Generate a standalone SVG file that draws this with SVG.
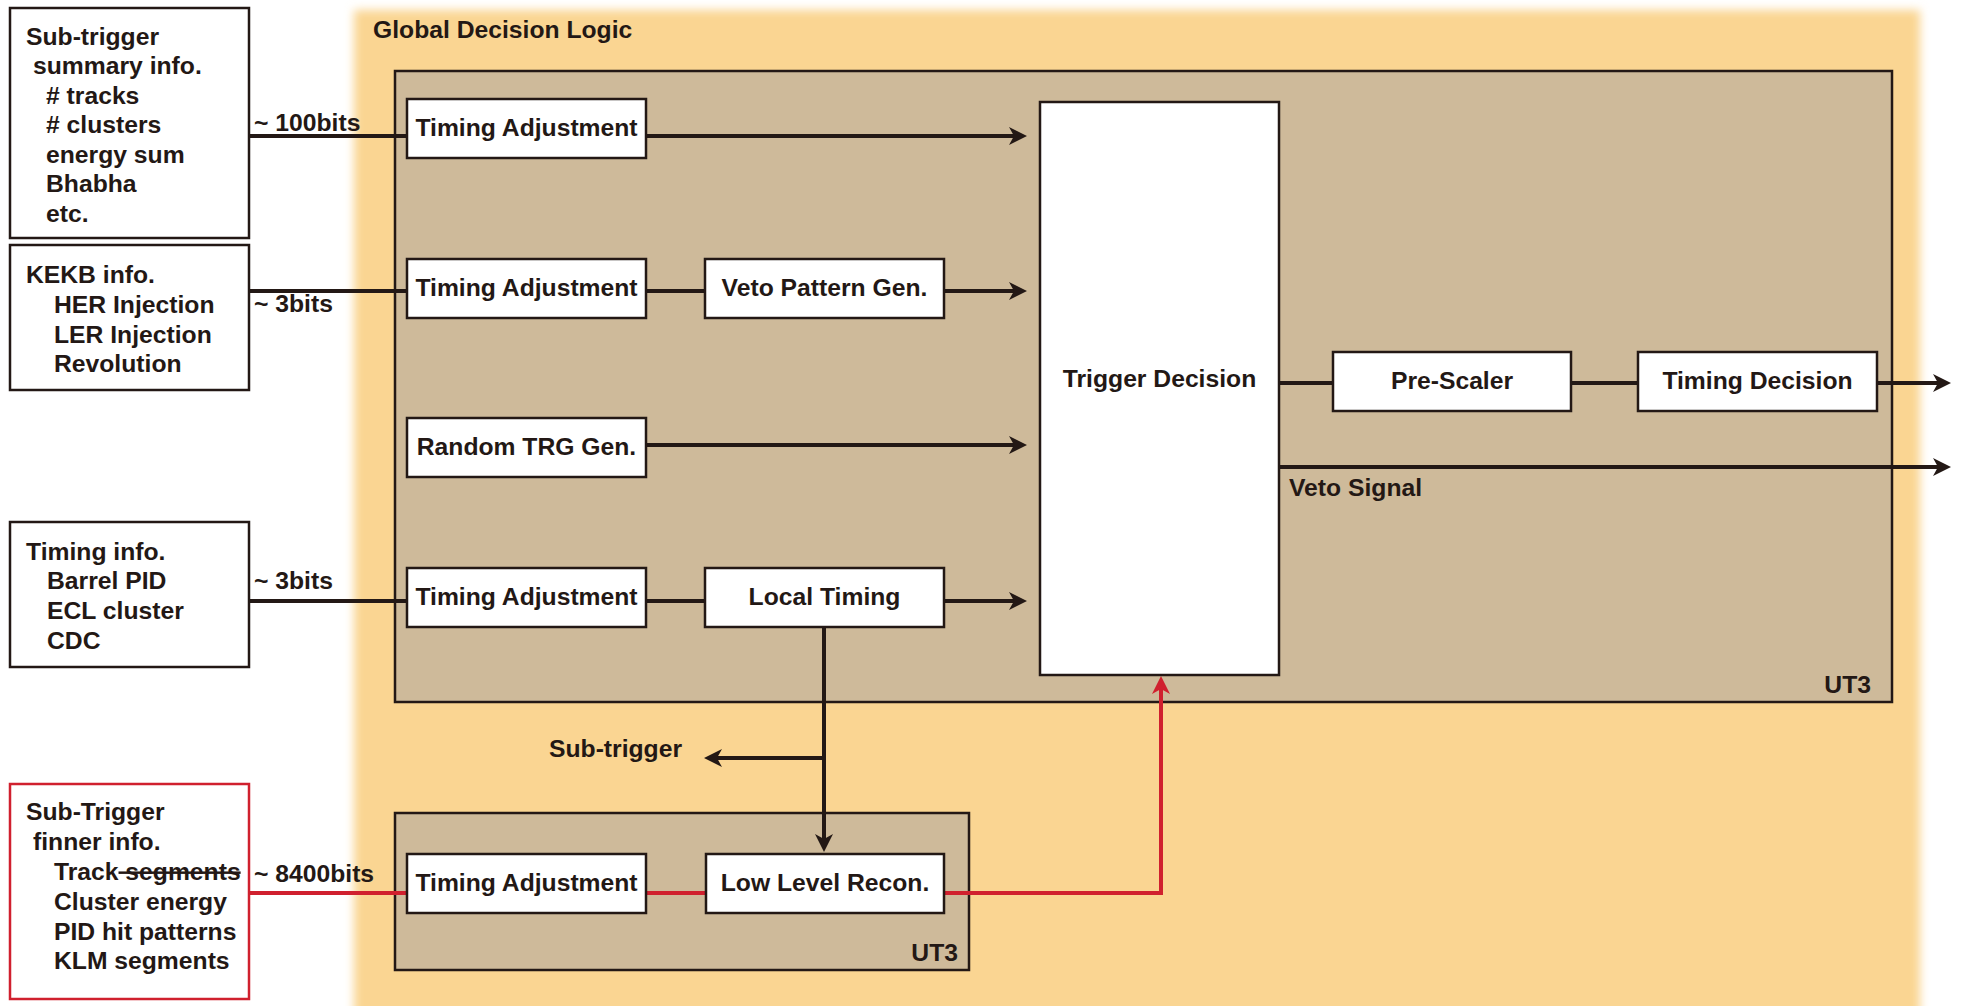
<svg xmlns="http://www.w3.org/2000/svg" width="1961" height="1006" viewBox="0 0 1961 1006">
<style>
text{font-family:"Liberation Sans",Arial,Helvetica,sans-serif;font-weight:bold;font-size:24.7px;fill:#231815}
.c{text-anchor:middle}
.r{text-anchor:end}
.box{fill:#fff;stroke:#231815;stroke-width:2.5}
.rbox{fill:#fff;stroke:#D0202E;stroke-width:2.5}
.ut3{fill:#CEBA9A;stroke:#231815;stroke-width:2.5}
.ln{fill:none;stroke:#231815;stroke-width:4}
.red{fill:none;stroke:#D0202E;stroke-width:4}
.ar{marker-end:url(#ah)}
.arr{marker-end:url(#ahr)}
</style>
<defs>
<filter id="soft" x="-5%" y="-5%" width="110%" height="110%"><feGaussianBlur stdDeviation="5"/></filter>
<marker id="ah" markerUnits="userSpaceOnUse" markerWidth="24" markerHeight="24" viewBox="-2 -12 24 24" refX="14" refY="0" orient="auto"><path d="M0,-9 L18,0 L0,9 L5,0 Z" fill="#231815"/></marker>
<marker id="ahr" markerUnits="userSpaceOnUse" markerWidth="24" markerHeight="24" viewBox="-2 -12 24 24" refX="14" refY="0" orient="auto"><path d="M0,-9 L18,0 L0,9 L5,0 Z" fill="#D0202E"/></marker>
</defs>
<rect width="1961" height="1006" fill="#fff"/>
<g id="global-decision-logic">
<rect x="354" y="10" width="1566" height="1040" fill="#FAD592" filter="url(#soft)"/>
<text x="373" y="38">Global Decision Logic</text>
</g>
<g id="ut3-main">
<rect class="ut3" x="395" y="71" width="1497" height="631"/>
<text class="r" x="1871" y="693">UT3</text>
</g>
<g id="ut3-lower">
<rect class="ut3" x="395" y="813" width="574" height="157"/>
<text class="r" x="958" y="961">UT3</text>
</g>

<g id="connectors">
<path class="ln" d="M249,136 H406"/>
<path class="ln ar" d="M646,136 H1023"/>
<path class="ln" d="M249,291 H406"/>
<path class="ln" d="M646,291 H705"/>
<path class="ln ar" d="M944,291 H1023"/>
<path class="ln ar" d="M646,445 H1023"/>
<path class="ln" d="M249,601 H406"/>
<path class="ln" d="M646,601 H705"/>
<path class="ln ar" d="M944,601 H1023"/>
<path class="ln ar" d="M824,626 V848"/>
<path class="ln ar" d="M824,758 H708"/>
<path class="ln" d="M1279,383 H1333"/>
<path class="ln" d="M1571,383 H1638"/>
<path class="ln ar" d="M1877,383 H1947"/>
<path class="ln ar" d="M1279,467 H1947"/>
<path class="red" d="M249,893 H406"/>
<path class="red" d="M646,893 H705"/>
<path class="red arr" d="M944,893 H1161 V680"/>
<text x="254" y="131">~ 100bits</text>
<text x="254" y="312">~ 3bits</text>
<text x="254" y="589">~ 3bits</text>
<text x="254" y="882">~ 8400bits</text>
<text x="549" y="757">Sub-trigger</text>
<text x="1289" y="496">Veto Signal</text>
</g>

<g id="subtrigger-summary">
<rect class="box" x="10" y="8" width="239" height="230"/>
<text x="26" y="45">Sub-trigger</text>
<text x="33" y="74">summary info.</text>
<text x="46" y="104">#  tracks</text>
<text x="46" y="133">#  clusters</text>
<text x="46" y="163">energy sum</text>
<text x="46" y="192">Bhabha</text>
<text x="46" y="222">etc.</text>
</g>
<g id="kekb-info">
<rect class="box" x="10" y="245" width="239" height="145"/>
<text x="26" y="283">KEKB info.</text>
<text x="54" y="313">HER Injection</text>
<text x="54" y="343">LER Injection</text>
<text x="54" y="372">Revolution</text>
</g>
<g id="timing-info">
<rect class="box" x="10" y="522" width="239" height="145"/>
<text x="26" y="560">Timing info.</text>
<text x="47" y="589">Barrel PID</text>
<text x="47" y="619">ECL cluster</text>
<text x="47" y="649">CDC</text>
</g>
<g id="subtrigger-finner">
<rect class="rbox" x="10" y="784" width="239" height="215"/>
<text x="26" y="820">Sub-Trigger</text>
<text x="33" y="850">finner info.</text>
<text x="54" y="880">Track<tspan text-decoration="line-through" style="text-decoration:line-through"> segments</tspan></text>
<text x="54" y="910">Cluster energy</text>
<text x="54" y="940">PID hit patterns</text>
<text x="54" y="969">KLM segments</text>
</g>

<g id="timing-adj-1"><rect class="box" x="407" y="99" width="239" height="59"/><text class="c" x="526.5" y="136">Timing Adjustment</text></g>
<g id="timing-adj-2"><rect class="box" x="407" y="259" width="239" height="59"/><text class="c" x="526.5" y="296">Timing Adjustment</text></g>
<g id="random-trg-gen"><rect class="box" x="407" y="418" width="239" height="59"/><text class="c" x="526.5" y="455">Random TRG Gen.</text></g>
<g id="timing-adj-3"><rect class="box" x="407" y="568" width="239" height="59"/><text class="c" x="526.5" y="605">Timing Adjustment</text></g>
<g id="veto-pattern-gen"><rect class="box" x="705" y="259" width="239" height="59"/><text class="c" x="824.5" y="296">Veto Pattern Gen.</text></g>
<g id="local-timing"><rect class="box" x="705" y="568" width="239" height="59"/><text class="c" x="824.5" y="605">Local Timing</text></g>
<g id="trigger-decision"><rect class="box" x="1040" y="102" width="239" height="573"/><text class="c" x="1159.5" y="387">Trigger Decision</text></g>
<g id="pre-scaler"><rect class="box" x="1333" y="352" width="238" height="59"/><text class="c" x="1452" y="389">Pre-Scaler</text></g>
<g id="timing-decision"><rect class="box" x="1638" y="352" width="239" height="59"/><text class="c" x="1757.5" y="389">Timing Decision</text></g>
<g id="timing-adj-4"><rect class="box" x="407" y="854" width="239" height="59"/><text class="c" x="526.5" y="891">Timing Adjustment</text></g>
<g id="low-level-recon"><rect class="box" x="706" y="854" width="238" height="59"/><text class="c" x="825" y="891">Low Level Recon.</text></g>
</svg>
